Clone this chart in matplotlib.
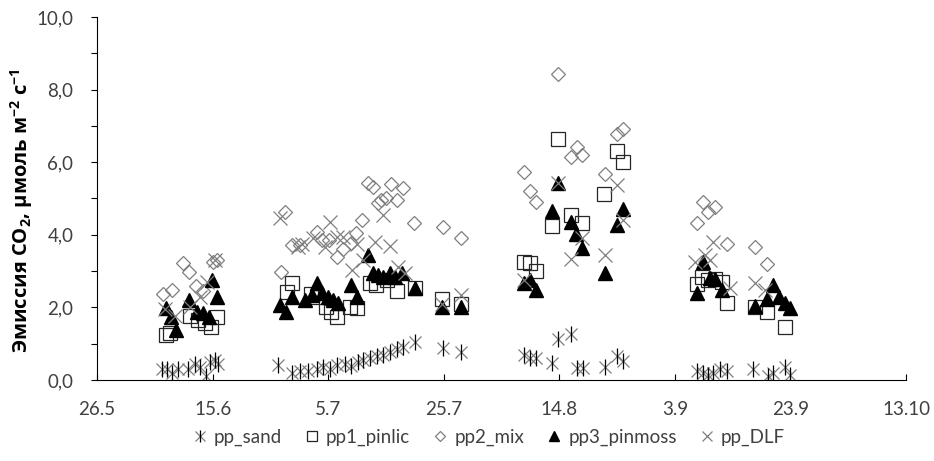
import numpy as np
import matplotlib
matplotlib.use("Agg")
import matplotlib.pyplot as plt
from matplotlib.legend_handler import HandlerTuple

plt.rcParams.update({
    "font.family": ["Lato", "Open Sans", "DejaVu Sans"],
    "mathtext.fontset": "custom",
    "mathtext.rm": "Open Sans",
    "mathtext.bf": "Open Sans:bold",
})

# x = days after 26 May
tick_days = [0, 20, 40, 60, 80, 100, 120, 140]
tick_labels = ["26.5", "15.6", "5.7", "25.7", "14.8", "3.9", "23.9", "13.10"]

sand_x = [11.3, 12.1, 13.0, 14.0, 15.8, 17.0, 17.8, 18.9, 19.6, 20.4, 20.9,
          31.3, 33.7, 35.1, 36.5, 38.1, 39.1, 40.3, 41.5, 42.9, 44.0, 45.2, 46.0,
          47.2, 48.5, 49.5, 50.7, 51.9, 53.0, 55.0,
          59.8, 63.0,
          73.9, 74.9, 76.0, 78.7, 79.8, 82.0, 83.1, 84.1, 87.9, 90.0, 91.0,
          103.8, 104.9, 105.7, 106.6, 107.8, 109.0, 113.5, 116.1, 117.0, 119.1, 119.9]
sand_y = [0.30, 0.30, 0.20, 0.30, 0.30, 0.45, 0.35, 0.10, 0.50, 0.55, 0.45,
          0.42, 0.20, 0.25, 0.25, 0.30, 0.35, 0.30, 0.40, 0.45, 0.38, 0.50, 0.55,
          0.60, 0.65, 0.70, 0.78, 0.85, 0.92, 1.05,
          0.88, 0.77,
          0.69, 0.60, 0.60, 0.47, 1.13, 1.27, 0.33, 0.33, 0.36, 0.66, 0.52,
          0.25, 0.20, 0.15, 0.20, 0.30, 0.25, 0.30, 0.10, 0.20, 0.35, 0.15]

pinlic_x = [11.9, 12.6, 16.1, 17.5, 18.7, 19.7, 20.8,
            32.9, 33.7, 37.0, 38.1, 39.6, 40.5, 41.5, 43.8, 45.0, 47.2, 48.3, 50.2, 51.9, 55.0,
            59.7, 63.0,
            73.9, 74.9, 76.0, 78.7, 79.8, 82.0, 83.9, 87.7, 90.0, 91.0,
            103.8, 104.7, 105.7, 106.9, 108.2, 109.0, 113.9, 115.9, 119.1]
pinlic_y = [1.24, 1.30, 1.76, 1.65, 1.57, 1.46, 1.74,
            2.42, 2.67, 2.38, 2.29, 2.00, 1.87, 1.74, 2.00, 1.98, 2.67, 2.62, 2.75, 2.45, 2.53,
            2.23, 2.09,
            3.25, 3.22, 3.00, 4.24, 6.64, 4.55, 4.32, 5.12, 6.31, 6.00,
            2.64, 2.84, 2.75, 2.78, 2.70, 2.12, 2.01, 1.87, 1.46]

mix_x = [11.4, 13.0, 14.9, 15.9, 17.1, 18.3, 20.1, 20.8,
         31.8, 32.5, 33.7, 35.1, 38.1, 38.9, 40.2, 41.5, 42.6, 44.0, 44.8, 45.9,
         46.9, 47.8, 48.6, 49.1, 50.0, 50.9, 51.9, 53.0, 54.9,
         59.9, 63.0,
         73.9, 74.9, 76.0, 79.8, 82.0, 83.1, 83.9, 87.9, 90.0, 91.0,
         103.8, 104.9, 105.7, 106.9, 109.0, 113.9, 115.9]
mix_y = [2.37, 2.48, 3.22, 2.97, 2.60, 2.45, 3.25, 3.30,
         2.98, 4.63, 3.72, 3.72, 4.08, 3.85, 3.86, 3.39, 3.60, 3.77, 4.05, 4.40,
         5.43, 5.32, 4.88, 4.96, 5.00, 5.40, 4.96, 5.29, 4.32,
         4.21, 3.91,
         5.73, 5.21, 4.90, 8.43, 6.14, 6.42, 6.20, 5.67, 6.78, 6.91,
         4.32, 4.90, 4.63, 4.77, 3.75, 3.66, 3.20]

pinmoss_x = [11.9, 12.8, 13.7, 15.9, 17.3, 18.3, 19.4, 19.9, 20.8,
             31.7, 32.7, 33.7, 36.0, 37.2, 38.1, 38.9, 40.0, 40.8, 41.7, 44.0, 45.0,
             46.9, 47.8, 48.6, 49.5, 50.7, 51.6, 52.8, 55.0,
             59.7, 63.0,
             73.9, 74.9, 76.0, 78.7, 79.8, 82.0, 82.9, 83.9, 87.9, 90.0, 91.0,
             103.8, 104.9, 106.1, 106.9, 108.2, 113.9, 115.9, 117.0, 118.0, 119.1, 119.9]
pinmoss_y = [1.98, 1.74, 1.38, 2.20, 1.87, 1.84, 1.74, 2.75, 2.29,
             2.07, 1.87, 2.29, 2.20, 2.34, 2.67, 2.40, 2.29, 2.20, 2.12, 2.62, 2.29,
             3.44, 2.95, 2.89, 2.84, 2.95, 2.84, 2.95, 2.53,
             2.01, 2.01,
             2.67, 2.75, 2.48, 4.66, 5.43, 4.35, 4.02, 3.64, 2.95, 4.27, 4.71,
             2.40, 3.25, 2.81, 2.78, 2.48, 2.04, 2.23, 2.62, 2.29, 2.12, 1.98]

dlf_x = [11.8, 13.5, 16.1, 17.8, 19.0, 20.4,
         31.7, 34.8, 35.5, 37.4, 39.5, 40.3, 41.5, 42.6, 44.1, 45.0, 46.0, 48.1,
         49.5, 50.7, 52.1, 53.3,
         59.7, 63.0,
         73.9, 79.8, 82.0, 83.9, 87.9, 90.0, 91.0,
         103.5, 105.2, 106.6, 106.1, 109.5, 113.9, 115.6]
dlf_y = [1.95, 1.75, 2.00, 2.30, 2.70, 3.30,
         4.46, 3.66, 3.75, 3.90, 3.66, 4.35, 3.94, 3.95, 3.03, 3.75, 3.30, 3.80,
         4.55, 3.70, 3.11, 2.95,
         2.10, 2.34,
         2.75, 5.43, 3.33, 3.90, 3.44, 5.37, 4.40,
         3.25, 3.44, 3.80, 3.30, 2.53, 2.67, 2.48]

fig = plt.figure(figsize=(9.34, 4.61), dpi=100)
ax = fig.add_axes([97 / 934, 1 - 380 / 461, (906 - 97) / 934, (380 - 17) / 461])

gray = "#7f7f7f"
mew = 0.9

# pp_sand: Excel "star" = x with a vertical bar
s1, = ax.plot(sand_x, sand_y, ls="none", marker="x", ms=9, mec=gray, mew=mew)
s2, = ax.plot(sand_x, sand_y, ls="none", marker="|", ms=11, mec="black", mew=mew)
h_lic, = ax.plot(pinlic_x, pinlic_y, ls="none", marker="s", ms=10, mfc="none",
                 mec="#262626", mew=mew)
h_mix, = ax.plot(mix_x, mix_y, ls="none", marker="D", ms=6.8, mfc="none",
                 mec=gray, mew=mew)
h_moss, = ax.plot(pinmoss_x, pinmoss_y, ls="none", marker="^", ms=10,
                  color="black", mec="black")
h_dlf, = ax.plot(dlf_x, dlf_y, ls="none", marker="x", ms=10, mec=gray, mew=mew)

ax.set_xlim(0, 140)
ax.set_ylim(0, 10)
ax.set_xticks(tick_days)
ax.set_xticklabels(tick_labels)
ax.set_yticks(np.arange(0, 11, 2))
ax.set_yticklabels([f"{v:.1f}".replace(".", ",") for v in np.arange(0, 11, 2)])
ax.set_yticks(np.arange(1, 10, 2), minor=True)

for side in ["top", "right"]:
    ax.spines[side].set_visible(False)
for side in ["left", "bottom"]:
    ax.spines[side].set_color("black")
    ax.spines[side].set_linewidth(0.8)

ax.tick_params(axis="y", which="both", direction="out", length=4, width=0.8,
               pad=13, labelsize=13.5, labelcolor="#404040")
ax.tick_params(axis="x", direction="in", length=4, width=0.8, pad=15,
               labelsize=13.5, labelcolor="#404040")

ax.set_ylabel(r"Эмиссия CO$_\mathbf{2}$, μмоль м$^\mathbf{-2}$ с$^\mathbf{-1}$",
              family="Open Sans", fontweight="bold", fontsize=14.5)
ax.yaxis.set_label_coords(-62 / 809, 0.466)

fig.legend([(s1, s2), h_lic, h_mix, h_moss, h_dlf],
           ["pp_sand", "pp1_pinlic", "pp2_mix", "pp3_pinmoss", "pp_DLF"],
           handler_map={tuple: HandlerTuple(ndivide=1)},
           loc="center", bbox_to_anchor=(0.523, 1 - 437 / 461), ncol=5,
           frameon=False, fontsize=13.5, markerscale=0.75, handlelength=0.8,
           handletextpad=0.35, columnspacing=1.2, labelcolor="#404040")

fig.savefig("out.png", dpi=100)
